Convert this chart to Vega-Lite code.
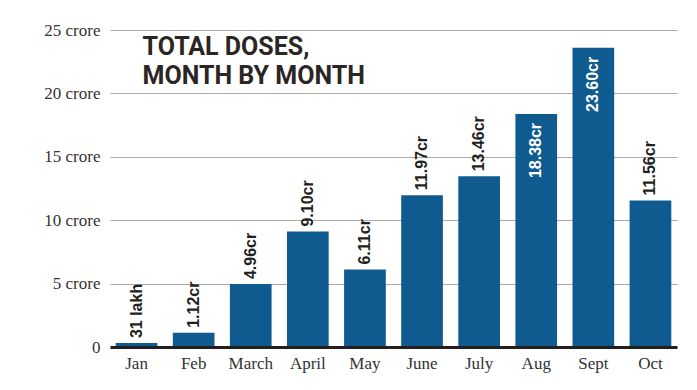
{
  "$schema": "https://vega.github.io/schema/vega-lite/v6.json",
  "width": 567,
  "height": 317,
  "autosize": {"type": "none"},
  "padding": {"left": 110, "top": 30, "right": 20, "bottom": 43},
  "background": "white",
  "data": {
    "values": [
      {"month": "Jan", "value": 0.31, "label": "31 lakh"},
      {"month": "Feb", "value": 1.12, "label": "1.12cr"},
      {"month": "March", "value": 4.96, "label": "4.96cr"},
      {"month": "April", "value": 9.10, "label": "9.10cr"},
      {"month": "May", "value": 6.11, "label": "6.11cr"},
      {"month": "June", "value": 11.97, "label": "11.97cr"},
      {"month": "July", "value": 13.46, "label": "13.46cr"},
      {"month": "Aug", "value": 18.38, "label": "18.38cr"},
      {"month": "Sept", "value": 23.60, "label": "23.60cr"},
      {"month": "Oct", "value": 11.56, "label": "11.56cr"}
    ]
  },
  "encoding": {
    "x": {
      "field": "month",
      "type": "nominal",
      "sort": null,
      "scale": {"paddingInner": 0.27, "paddingOuter": 0.1},
      "axis": {
        "title": null,
        "labelAngle": 0,
        "labelFont": "Liberation Serif",
        "labelFontSize": 17,
        "labelColor": "#333333",
        "labelPadding": 8,
        "ticks": false,
        "domain": true,
        "domainColor": "#231f20",
        "domainWidth": 3,
        "grid": false,
        "zindex": 1
      }
    },
    "y": {
      "field": "value",
      "type": "quantitative",
      "scale": {"domain": [0, 25], "nice": false},
      "axis": {
        "title": null,
        "values": [0, 5, 10, 15, 20, 25],
        "labelExpr": "datum.value == 0 ? '0' : datum.value + ' crore'",
        "labelFont": "Liberation Serif",
        "labelFontSize": 17,
        "labelColor": "#333333",
        "labelPadding": 10,
        "ticks": false,
        "domain": false,
        "grid": true,
        "gridColor": "#aaaaaa",
        "gridWidth": 1
      }
    }
  },
  "layer": [
    {
      "mark": {"type": "bar", "color": "#0f5a8e"}
    },
    {
      "transform": [{"filter": "datum.value < 15"}],
      "mark": {
        "type": "text",
        "angle": 270,
        "align": "left",
        "baseline": "middle",
        "dx": 5,
        "font": "Liberation Sans",
        "fontWeight": "bold",
        "fontSize": 16,
        "color": "#231f20"
      },
      "encoding": {"text": {"field": "label"}}
    },
    {
      "transform": [{"filter": "datum.value >= 15"}],
      "mark": {
        "type": "text",
        "angle": 270,
        "align": "right",
        "baseline": "middle",
        "dx": -9,
        "font": "Liberation Sans",
        "fontWeight": "bold",
        "fontSize": 16,
        "color": "white"
      },
      "encoding": {"text": {"field": "label"}}
    },
    {
      "data": {"values": [{"heading": "TOTAL DOSES,\nMONTH BY MONTH", "anchorMonth": "Jan", "anchorValue": 25}]},
      "mark": {
        "type": "text",
        "align": "left",
        "baseline": "top",
        "dx": 6,
        "dy": 5,
        "lineBreak": "\n",
        "lineHeight": 29,
        "font": "Roboto",
        "fontWeight": "bold",
        "fontSize": 25,
        "color": "#2b2523"
      },
      "encoding": {
        "x": {"field": "anchorMonth", "type": "nominal"},
        "y": {"field": "anchorValue", "type": "quantitative"},
        "text": {"field": "heading"}
      }
    }
  ],
  "config": {
    "view": {"stroke": null}
  }
}
